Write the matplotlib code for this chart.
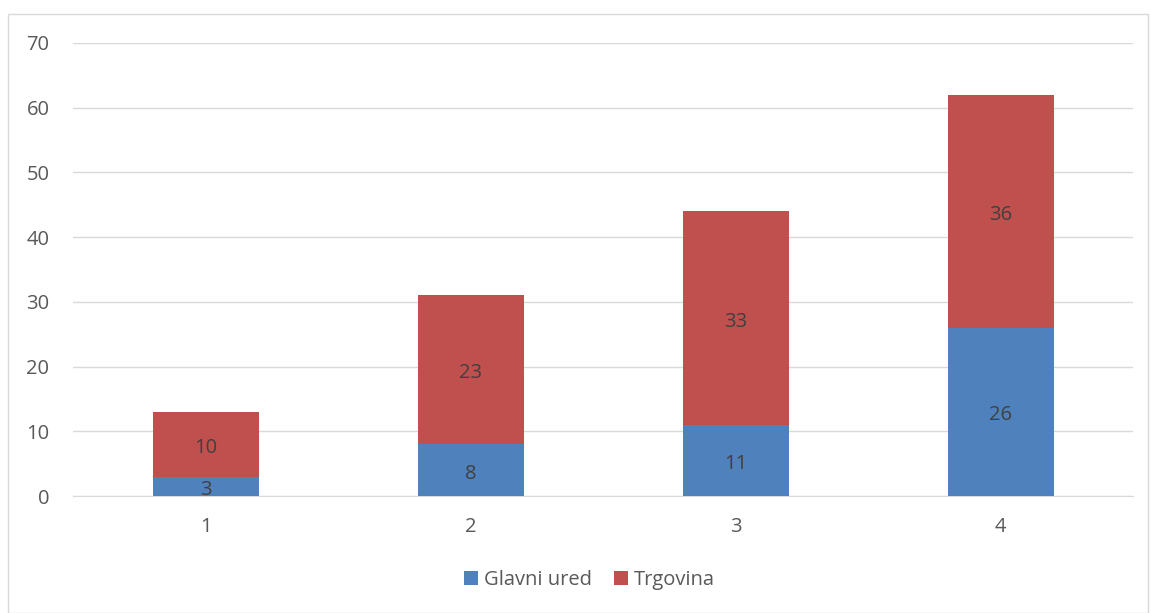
import numpy as np
import matplotlib.pyplot as plt
from matplotlib.patches import Rectangle

categories = ["1", "2", "3", "4"]
glavni_ured = [3, 8, 11, 26]
trgovina = [10, 23, 33, 36]
y_ticks = [0, 10, 20, 30, 40, 50, 60, 70]

blue = "#4F81BD"
red = "#C0504D"
text_col = "#595959"
fs = 14.5

plt.rcParams['font.family'] = ['Open Sans', 'DejaVu Sans']

fig = plt.figure(figsize=(11.51, 6.13), dpi=100)
# outer chart border
fig.patches.append(Rectangle((8 / 1151, 0), 1140 / 1151, 599 / 613,
                             transform=fig.transFigure, fill=False,
                             edgecolor="#D9D9D9", linewidth=1))

ax = fig.add_axes([73 / 1151, 1 - 496 / 613, 1060 / 1151, 453 / 613])

x = np.arange(1, len(categories) + 1)
w = 0.4
ax.bar(x, glavni_ured, width=w, color=blue, label="Glavni ured", zorder=3)
ax.bar(x, trgovina, width=w, bottom=glavni_ured, color=red, label="Trgovina", zorder=3)

for xi, g, t in zip(x, glavni_ured, trgovina):
    ax.annotate(str(g), (xi, g / 2), xytext=(0, -2.5), textcoords="offset points",
                ha="center", va="center", color="#404040", fontsize=fs, zorder=4)
    ax.annotate(str(t), (xi, g + t / 2), xytext=(0, -2.5), textcoords="offset points",
                ha="center", va="center", color="#404040", fontsize=fs, zorder=4)

ax.set_xlim(0.5, 4.5)
ax.set_ylim(0, 70)
ax.set_yticks(y_ticks)
ax.set_xticks(x)
ax.set_xticklabels(categories)
ax.yaxis.grid(True, color="#D9D9D9", linewidth=1, zorder=0)
for s in ["top", "right", "left"]:
    ax.spines[s].set_visible(False)
ax.spines["bottom"].set_color("#D9D9D9")
ax.tick_params(axis="both", length=0, colors=text_col, labelsize=fs)
ax.tick_params(axis="y", pad=17)
ax.tick_params(axis="x", pad=15)

ax.legend(loc="center", bbox_to_anchor=(0.487, -0.185), ncol=2, frameon=False,
          fontsize=fs, labelcolor=text_col, handlelength=0.7, handleheight=0.7,
          columnspacing=1.1, handletextpad=0.3)

fig.savefig("out.png", dpi=100)
